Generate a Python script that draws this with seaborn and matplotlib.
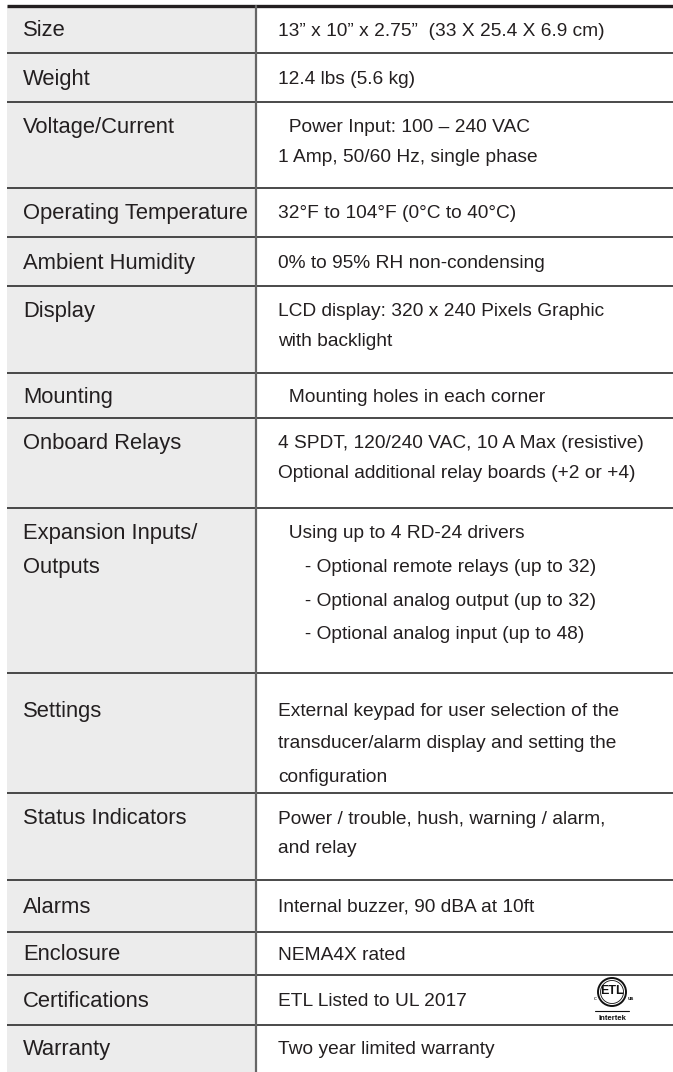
import matplotlib
matplotlib.use("Agg")
import matplotlib.pyplot as plt
import seaborn as sns
from matplotlib.patches import Rectangle, Circle

# spec table contents
labels = ["Size", "Weight", "Voltage/Current", "Operating Temperature",
          "Ambient Humidity", "Display", "Mounting", "Onboard Relays",
          "Expansion Inputs/\nOutputs", "Settings", "Status Indicators",
          "Alarms", "Enclosure", "Certifications", "Warranty"]

values = [
    ["13\u201d x 10\u201d x 2.75\u201d  (33 X 25.4 X 6.9 cm)"],
    ["12.4 lbs (5.6 kg)"],
    ["  Power Input: 100 \u2013 240 VAC", "1 Amp, 50/60 Hz, single phase"],
    ["32\u00b0F to 104\u00b0F (0\u00b0C to 40\u00b0C)"],
    ["0% to 95% RH non-condensing"],
    ["LCD display: 320 x 240 Pixels Graphic", "with backlight"],
    ["  Mounting holes in each corner"],
    ["4 SPDT, 120/240 VAC, 10 A Max (resistive)",
     "Optional additional relay boards (+2 or +4)"],
    ["  Using up to 4 RD-24 drivers",
     "     - Optional remote relays (up to 32)",
     "     - Optional analog output (up to 32)",
     "     - Optional analog input (up to 48)"],
    ["External keypad for user selection of the",
     "transducer/alarm display and setting the",
     "configuration"],
    ["Power / trouble, hush, warning / alarm,", "and relay"],
    ["Internal buzzer, 90 dBA at 10ft"],
    ["NEMA4X rated"],
    ["ETL Listed to UL 2017"],
    ["Two year limited warranty"],
]

# layout (pixels)
W, H = 673, 1072
row_edges = [6, 53, 102, 188, 237, 286, 373, 418, 508, 673, 793, 880, 932, 975, 1025, 1072]
line_gap = {8: 33.5, 9: 33}
first_pad = {9: 38}
x_left, x_split, x_lab, x_val = 7, 256, 23, 278

sns.set_theme(style="white")
plt.rcParams["font.family"] = ["Liberation Sans", "DejaVu Sans"]

fig = plt.figure(figsize=(W / 100, H / 100), dpi=100)
ax = fig.add_axes([0, 0, 1, 1])
ax.set_xlim(0, W)
ax.set_ylim(H, 0)
ax.axis("off")

ax.add_patch(Rectangle((x_left, row_edges[0]), x_split - x_left, H - row_edges[0],
                       facecolor="#ececec", edgecolor="none", zorder=0))

for i, (lab, val) in enumerate(zip(labels, values)):
    top, bot = row_edges[i], row_edges[i + 1]
    lab_lines = lab.split("\n")
    n = max(len(val), len(lab_lines))
    if n == 1:
        ys = [(top + bot) / 2 + 1.5]
    else:
        gap = line_gap.get(i, 29.5)
        ys = [top + first_pad.get(i, 26) + k * gap for k in range(n)]
    for k, t in enumerate(lab_lines):
        ax.text(x_lab, ys[k], t, fontsize=15.8, color="#231f20", va="center", ha="left")
    for k, t in enumerate(val):
        ax.text(x_val, ys[k], t, fontsize=13.8, color="#231f20", va="center", ha="left")

# row rules
for y in row_edges[1:-1]:
    ax.plot([x_left, W], [y, y], color="#3a3a3a", lw=1.3, solid_capstyle="butt", zorder=3)
ax.plot([x_left, W], [row_edges[0], row_edges[0]], color="#231f20", lw=2.4,
        solid_capstyle="butt", zorder=3)
ax.plot([x_split, x_split], [row_edges[0], H], color="#666666", lw=1.6, zorder=3)

# ETL listed mark
cx, cy = 612, 992
ax.add_patch(Circle((cx, cy), 14, facecolor="white", edgecolor="#111111", lw=1.4, zorder=4))
ax.add_patch(Circle((cx, cy), 11.5, facecolor="none", edgecolor="#111111", lw=0.6, zorder=4))
ax.text(cx, cy - 1, "ETL", fontsize=9, fontweight="bold", ha="center", va="center",
        color="#111111", zorder=5)
ax.text(cx - 17, cy + 6, "c", fontsize=4, ha="center", va="center", color="#111111")
ax.text(cx + 19, cy + 6, "us", fontsize=4, fontweight="bold", ha="center", va="center",
        color="#111111")
ax.plot([cx - 17, cx + 17], [1011, 1011], color="#111111", lw=0.8)
ax.text(cx, 1018, "Intertek", fontsize=5.5, fontweight="bold", ha="center", va="center",
        color="#111111")

fig.savefig("out.png", dpi=100)
